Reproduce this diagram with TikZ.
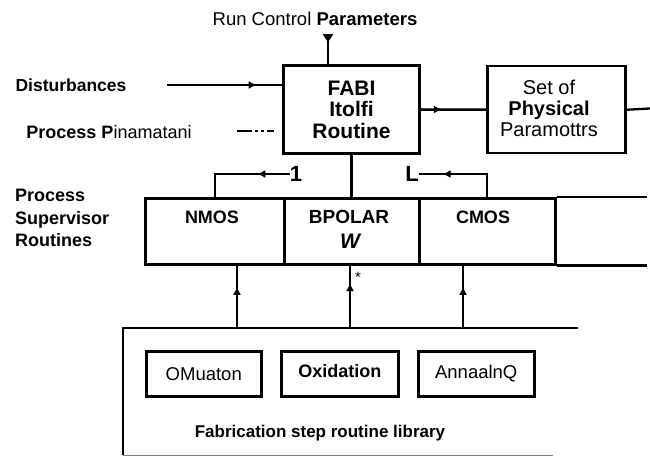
\documentclass[tikz,border=0pt]{standalone}
\usepackage{fontspec}
\setmainfont{Liberation Sans}
\usetikzlibrary{arrows.meta,decorations.markings,calc}
\begin{document}
\begin{tikzpicture}[x=1pt,y=-1pt,
  bigbox/.style={draw,line width=3pt,inner sep=0pt,anchor=north west,align=center},
  cell/.style={draw,line width=2.5pt,inner sep=0pt,anchor=north west},
  conn/.style={line width=2.3pt},
  midarrow/.style={postaction={decorate},decoration={markings,
     mark=at position #1 with {\arrow{Latex[length=8pt,width=8pt]}}}},
  midtri/.style={postaction={decorate},decoration={markings,
     mark=at position #1 with {\arrow{Triangle[length=8pt,width=10pt]}}}},
  lbl/.style={inner sep=0pt},
]
\useasboundingbox (0,0) rectangle (650,457);

% top label
\node[lbl,font=\fontsize{18.5}{18.5}\selectfont] (rcp) at (315,19) {Run Control \textbf{Parameters}};
\coordinate (rcstart) at (328,35);

% main boxes
\node[bigbox,minimum width=136pt,minimum height=88pt,
      font=\fontsize{21}{21.5}\selectfont\bfseries] (fabi) at (282,64) {FABI\\Itolfi\\Routine};
\node[bigbox,line width=2.5pt,minimum width=138pt,minimum height=87pt] (setp) at (486,65) {};
\node[lbl,align=center,font=\fontsize{20}{21}\selectfont] (setpt) at (549,108) {Set of\\\textbf{Physical}\\Paramottrs};
\coordinate (outR) at (650,108.5);

% left inputs
\node[lbl,font=\fontsize{17.5}{17.5}\selectfont\bfseries] (dist) at (71,85) {Disturbances};
\coordinate (dstart) at (167,85);
\node[lbl,font=\fontsize{18}{18}\selectfont] (ppar) at (109,132) {\textbf{Process P}inamatani};
\coordinate (pstart) at (237,131);

% supervisor row
\node[lbl,anchor=west,align=left,font=\fontsize{18}{22.5}\selectfont\bfseries] (psr) at (15,218) {Process\\Supervisor\\Routines};
\node[cell,minimum width=139pt,minimum height=66pt] (nmos) at (144,197) {};
\node[cell,minimum width=135pt,minimum height=66pt] (bpol) at (283,197) {};
\node[cell,minimum width=136pt,minimum height=66pt] (cmos) at (418,197) {};
\coordinate (rowend) at (647,197);
\node[lbl,font=\fontsize{18}{18}\selectfont\bfseries] (nmost) at (212,217) {NMOS};
\node[lbl,font=\fontsize{19}{19}\selectfont\bfseries] (bpolt) at (349,217) {BPOLAR};
\node[lbl,font=\fontsize{21}{21}\selectfont\bfseries\itshape] (bpolw) at (350,241) {W};
\node[lbl,font=\fontsize{18}{18}\selectfont\bfseries] (cmost) at (483,217) {CMOS};

\node[lbl,font=\fontsize{22}{22}\selectfont\bfseries] (one) at (296,174) {1};
\node[lbl,font=\fontsize{22}{22}\selectfont\bfseries] (ell) at (412,174) {L};

% library
\coordinate (libtl) at (123,328);
\coordinate (libtr) at (578,328);
\coordinate (libbl) at (123,455);
\coordinate (libbr) at (553,455);
\node[cell,minimum width=115pt,minimum height=45pt,font=\fontsize{18.5}{18.5}\selectfont] (omu) at (145,350) {OMuaton};
\node[cell,minimum width=117pt,minimum height=45pt,font=\fontsize{18}{18}\selectfont\bfseries] (oxi) at (280,350) {\raisebox{6pt}{Oxidation}};
\node[cell,minimum width=116pt,minimum height=45pt,font=\fontsize{18.5}{18.5}\selectfont] (ann) at (417,350) {AnnaalnQ};
\node[lbl,font=\fontsize{17}{17}\selectfont\bfseries] (fab) at (320,433) {Fabrication step routine library};
\coordinate (a1) at (237,328);
\coordinate (a2) at (350,328);
\coordinate (a3) at (463,328);
\node[lbl,font=\fontsize{15}{15}\selectfont] (star) at (358,277) {*};

% connectors
\draw[conn,midtri=0.25] (rcstart) -- (rcstart |- fabi.north);
\draw[conn,midarrow=0.78] (dstart) -- (dstart -| fabi.west);
\draw[conn,dash pattern=on 15pt off 3pt on 3pt off 3pt on 3pt off 3pt on 7pt] (pstart) -- ($(pstart -| fabi.west)+(-7,0)$);
\draw[conn,line width=2.5pt,midarrow=0.32] (fabi.east) -- (setp.west);
\draw[conn] (setp.east) -- (outR);
\draw[conn,line width=2.5pt] (fabi.south) -- (fabi.south |- bpol.north);
\draw[conn,midarrow=0.33] (one.west) -- (nmos.north |- one.west) -- (nmos.north);
\draw[conn,midarrow=0.74] (cmos.north) |- (ell.east);
\draw[line width=2.5pt] (cmos.north east) -- (cmos.north east -| rowend);
\draw[line width=2.5pt] (cmos.south east) -- (cmos.south east -| rowend);
\draw[line width=2.5pt] (libtr) -- (libtl) -- (libbl);
\draw[gray,line width=1pt] (libbl) -- (libbr);
\draw[conn,midarrow=0.66] (a1) -- (a1 |- nmos.south);
\draw[conn,midarrow=0.72] (a2) -- (a2 |- bpol.south);
\draw[conn,midarrow=0.66] (a3) -- (a3 |- cmos.south);
\end{tikzpicture}
\end{document}
